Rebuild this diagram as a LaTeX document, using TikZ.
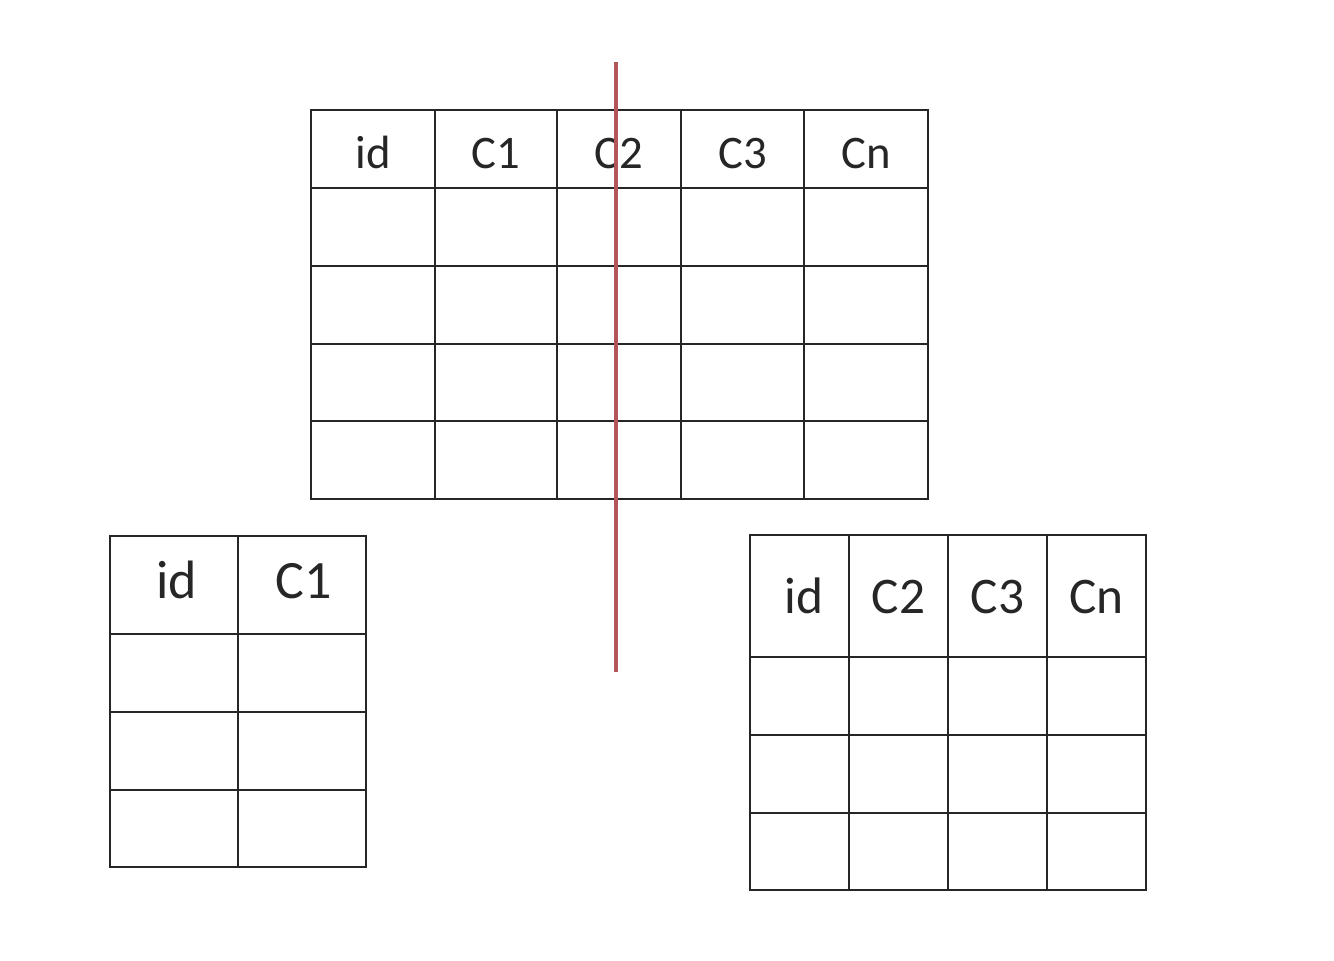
\documentclass[tikz,border=0pt]{standalone}
\usepackage{fontspec}
\setmainfont{Carlito}
\definecolor{cutred}{RGB}{178,86,88}
\begin{document}
\begin{tikzpicture}[
        x=0.75pt, y=-0.75pt,
        grid/.style  ={draw=black!85, line width=1.7pt, line cap=rect},
        head/.style  ={anchor=base, inner sep=0pt, text=black!85},
        cut/.style   ={draw=cutred, line width=3.2pt},
    ]
    \useasboundingbox[fill=white] (0,0) rectangle (1334,960);

    %% Top table -- full
    \foreach \x in {311,435,557,681,804,928}
        \draw[grid] (\x,110) -- (\x,499);
    \foreach \y in {110,188,266,344,421,499}
        \draw[grid] (311,\y) -- (928,\y);
    \foreach \lbl/\x [count=\i] in {id/373, C1/496, C2/619, C3/742.5, Cn/866}
        \node[head, font=\fontsize{35}{40}\selectfont] (top\i) at (\x,168) {\lbl};

    %% Left table -- id, C1
    \foreach \x in {110,238,366}
        \draw[grid] (\x,536) -- (\x,867);
    \foreach \y in {536,634,712,790,867}
        \draw[grid] (110,\y) -- (366,\y);
    \foreach \lbl/\x [count=\i] in {id/177, C1/304}
        \node[head, font=\fontsize{40.5}{45}\selectfont] (left\i) at (\x,598) {\lbl};

    %% Right table -- id, C2, C3, Cn
    \foreach \x in {750,849,948,1047,1146}
        \draw[grid] (\x,535) -- (\x,890);
    \foreach \y in {535,657,735,813,890}
        \draw[grid] (750,\y) -- (1146,\y);
    \foreach \lbl/\x [count=\i] in {id/804, C2/898.5, C3/997.5, Cn/1096.5}
        \node[head, font=\fontsize{38.5}{43}\selectfont] (right\i) at (\x,613) {\lbl};

    %% Split line
    \coordinate (cuttop) at (616,62);
    \coordinate (cutbot) at (616,672);
    \draw[cut] (cuttop) -- (cutbot);

    \end{tikzpicture}
\end{document}
